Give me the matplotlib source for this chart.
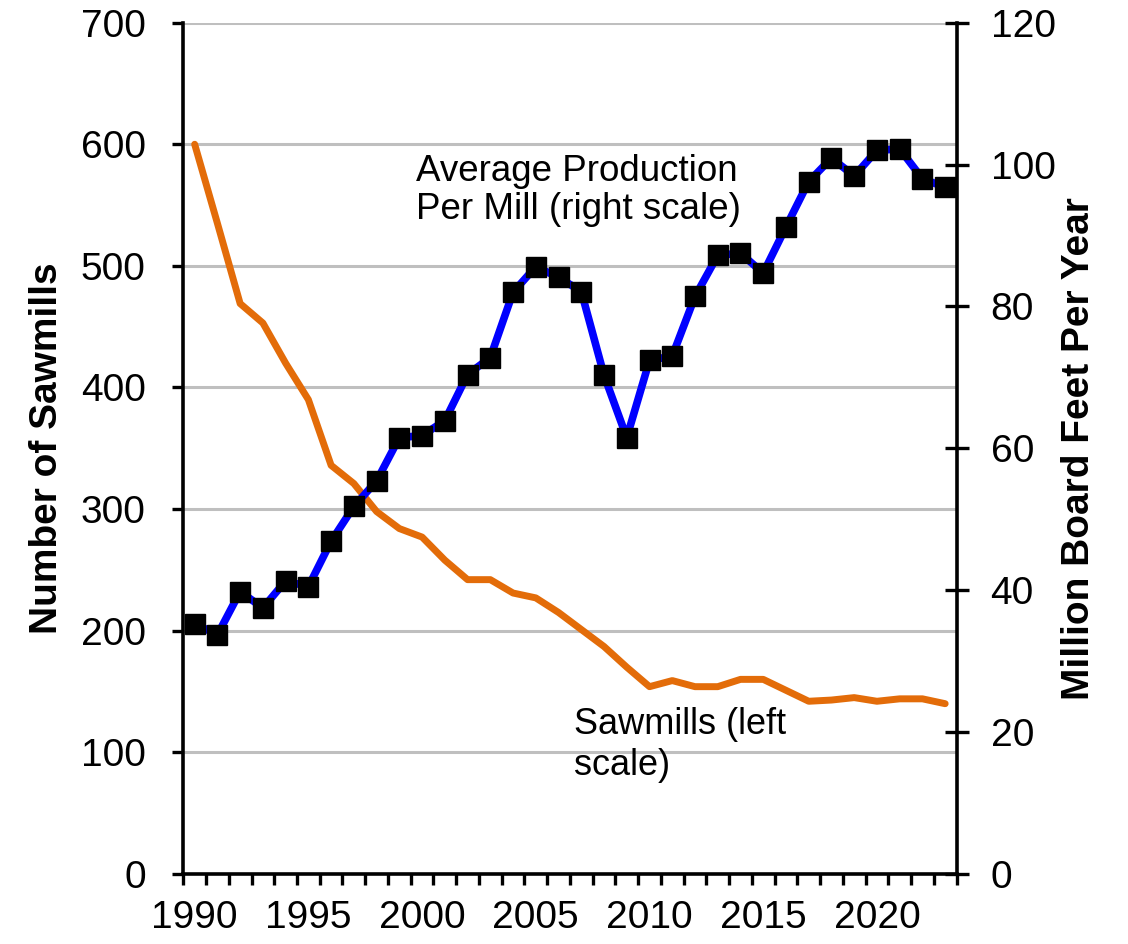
import numpy as np
import matplotlib
matplotlib.use('Agg')
import matplotlib.pyplot as plt
from matplotlib.ticker import FixedLocator, NullFormatter

plt.rcParams['font.family'] = ['Liberation Sans', 'DejaVu Sans']

# Data
years = np.arange(1990, 2024)
sawmills = [600, 535, 469, 453, 420, 390, 336, 321, 298, 284,
            277, 258, 242, 242, 231, 227, 215, 201, 187, 170,
            154, 159, 154, 154, 160, 160, 151, 142, 143, 145,
            142, 144, 144, 140]
production = [35.3, 33.7, 39.8, 37.5, 41.3, 40.5, 46.9, 51.8, 55.4, 61.5,
              61.8, 63.9, 70.4, 72.8, 82.0, 85.6, 84.1, 82.1, 70.3, 61.5,
              72.4, 73.0, 81.4, 87.2, 87.5, 84.7, 91.2, 97.6, 100.9, 98.4,
              102.0, 102.2, 98.0, 96.8]
label_years = [1990, 1995, 2000, 2005, 2010, 2015, 2020]

# category-style axis: each year sits in the middle of its slot
xpos = years + 0.5

fig = plt.figure(figsize=(11.28, 9.44), dpi=100)
ax = fig.add_axes([0.1625, 0.0742, 0.6855, 0.9018])
ax2 = ax.twinx()

ax.set_xlim(1990, 2024)
ax.set_ylim(0, 700)
ax2.set_ylim(0, 120)

# gridlines from the left axis
ax.set_yticks(np.arange(0, 701, 100))
ax.yaxis.grid(True, color='#BFBFBF', linewidth=2.2)
ax.set_axisbelow(True)

ax.plot(xpos, sawmills, color='#E36C09', linewidth=5, solid_joinstyle='round',
        solid_capstyle='round', zorder=3)
ax2.plot(xpos, production, color='#0000FF', linewidth=5.5, marker='s',
         markersize=14, markerfacecolor='black', markeredgecolor='black', zorder=3)

# x ticks: marks on every year boundary, labels centred on categories
ax.xaxis.set_major_locator(FixedLocator(np.array(label_years) + 0.5))
ax.set_xticklabels([str(y) for y in label_years])
ax.xaxis.set_minor_locator(FixedLocator(np.arange(1990, 2025)))
ax.xaxis.set_minor_formatter(NullFormatter())
ax.tick_params(axis='x', which='major', length=0, labelsize=28, pad=19)
ax.tick_params(axis='x', which='minor', length=8, width=2.4, direction='out')
ax.tick_params(axis='y', which='major', length=8, width=2.4, direction='out',
               labelsize=28, pad=19)

ax2.set_yticks(np.arange(0, 121, 20))
ax2.tick_params(axis='y', which='major', length=17, width=2.4, direction='inout',
                labelsize=28, pad=16)

for a in (ax, ax2):
    a.spines['top'].set_visible(False)
    for s in ('left', 'bottom', 'right'):
        a.spines[s].set_linewidth(2.6)
ax.spines['right'].set_visible(False)
ax2.spines['left'].set_visible(False)
ax2.spines['bottom'].set_visible(False)

ax.set_ylabel('Number of Sawmills', fontsize=28, fontweight='bold')
ax2.set_ylabel('Million Board Feet Per Year', fontsize=28, fontweight='bold')
ax.yaxis.set_label_coords(-0.153, 0.5)
ax2.yaxis.set_label_coords(1.135, 0.5)

ax2.text(2000.25, 101.5, 'Average Production\nPer Mill (right scale)', fontsize=26.5,
         va='top', ha='left', linespacing=1.12)
ax.text(2007.16, 137, 'Sawmills (left\nscale)', fontsize=26, va='top', ha='left',
        linespacing=1.22)

fig.savefig('out.png', dpi=100)
